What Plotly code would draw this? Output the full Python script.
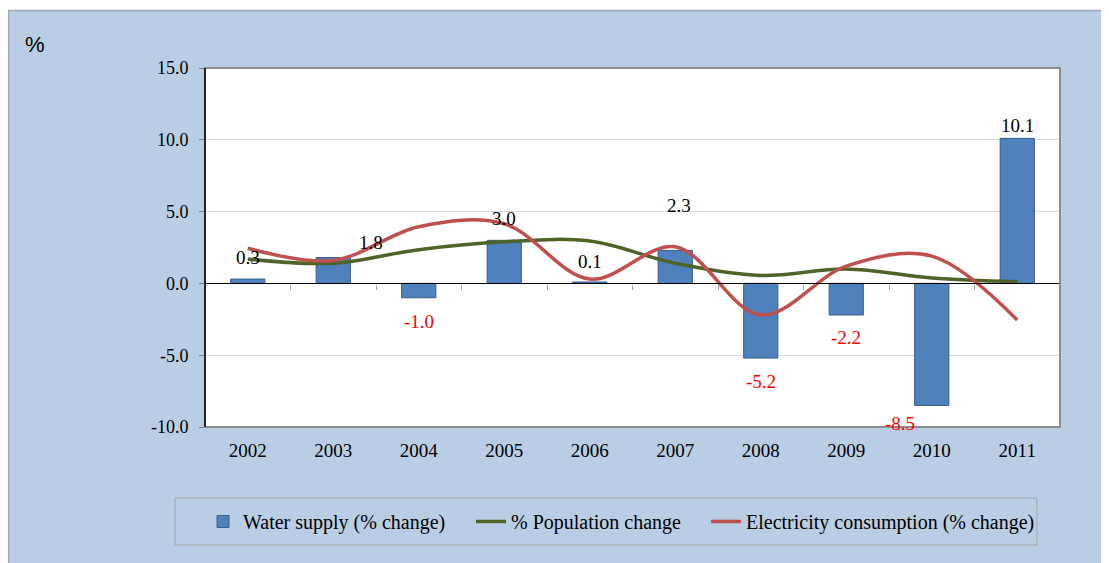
import plotly.graph_objects as go

years = ["2002", "2003", "2004", "2005", "2006", "2007", "2008", "2009", "2010", "2011"]
water_supply = [0.3, 1.8, -1.0, 3.0, 0.1, 2.3, -5.2, -2.2, -8.5, 10.1]
population_change = [1.7, 1.4, 2.35, 2.9, 2.95, 1.4, 0.55, 1.0, 0.38, 0.12]
electricity = [2.45, 1.6, 3.95, 4.15, 0.3, 2.55, -2.2, 1.2, 1.9, -2.55]
y_ticks = [-10, -5, 0, 5, 10, 15]
y_ticklabels = [f"{v:.1f}" for v in y_ticks]

# label pixel offsets (xshift, extra yshift) -- styling only
label_xshift = [0, 38, 0, 0, 0, 4, 0, 0, -32, 0]
label_yextra = [2, -5, 4, 2, 0, 25, 3, 3, -2, -7]

BLUE_BG = "#B9CDE5"
FONT = "Liberation Serif"

fig = go.Figure()
fig.add_trace(go.Bar(
    x=years, y=water_supply, name="Water supply (% change)", legend="legend",
    marker=dict(color="#4F81BD", line=dict(color="#385D8A", width=1)),
))
fig.add_trace(go.Scatter(
    x=years, y=population_change, name="% Population change", mode="lines", legend="legend2",
    line=dict(color="#4F6228", width=3.5, shape="spline", smoothing=1.0),
))
fig.add_trace(go.Scatter(
    x=years, y=electricity, name="Electricity consumption (% change)", mode="lines",
    legend="legend3",
    line=dict(color="#C0504D", width=3.5, shape="spline", smoothing=1.0),
))
# invisible trace to carry the zero-line category axis
fig.add_trace(go.Scatter(
    x=years, y=[None] * len(years), xaxis="x2", mode="lines",
    showlegend=False, hoverinfo="skip",
))

for i, v in enumerate(water_supply):
    pos = v >= 0
    fig.add_annotation(
        x=i, y=v, xref="x", yref="y", text=f"{v:.1f}", showarrow=False,
        xshift=label_xshift[i],
        yshift=(20 + label_yextra[i]) if pos else -(20 + label_yextra[i]),
        font=dict(family=FONT, size=19, color="black" if pos else "#FF0000"),
    )

# outer frame: thin white strip on top + grey edge lines
fig.add_shape(type="rect", xref="paper", yref="paper", x0=-0.24, x1=1.1, y0=1.1616, y1=1.2,
              fillcolor="white", line=dict(width=0), layer="below")
fig.add_shape(type="line", xref="paper", yref="paper", x0=-0.2304, x1=1.1, y0=1.1602, y1=1.1602,
              line=dict(color="#A0A8B4", width=1.5), layer="below")
fig.add_shape(type="line", xref="paper", yref="paper", x0=-0.2298, x1=-0.2298, y0=-0.4, y1=1.1616,
              line=dict(color="#A0A8B4", width=1.5), layer="below")
# legend box
fig.add_shape(type="rect", xref="paper", yref="paper", x0=-0.035, x1=0.973, y0=-0.3287, y1=-0.1978,
              fillcolor="rgba(0,0,0,0)", line=dict(color="#A6A6A6", width=1), layer="below")
# plot area border
fig.add_shape(type="rect", xref="x domain", yref="y domain", x0=0, x1=1, y0=0, y1=1,
              line=dict(color="#8C8C8C", width=2), layer="above")
fig.add_shape(type="line", xref="x domain", yref="y domain", x0=0, x1=0, y0=0, y1=1,
              line=dict(color="black", width=1.5), layer="above")

fig.add_annotation(x=-0.1985, y=1.065, xref="paper", yref="paper", text="%", showarrow=False,
                   xanchor="center", yanchor="middle",
                   font=dict(family="Liberation Sans", size=22, color="black"))

legend_common = dict(
    orientation="h", y=-0.2632, xanchor="left", yanchor="middle",
    bgcolor="rgba(0,0,0,0)", borderwidth=0,
    font=dict(family=FONT, size=20), itemwidth=30,
)

fig.update_layout(
    width=1101, height=555,
    margin=dict(l=197, r=49, t=60, b=136),
    paper_bgcolor=BLUE_BG, plot_bgcolor="white",
    font=dict(family=FONT, size=19, color="black"),
    bargap=0.6,
    showlegend=True,
    legend=dict(x=-0.0023, **legend_common),
    legend2=dict(x=0.3111, **legend_common),
    legend3=dict(x=0.5860, **legend_common),
    xaxis=dict(
        type="category", range=[-0.5, 9.5], showgrid=False, showline=False, ticks="",
        ticklabelstandoff=10, tickfont=dict(family=FONT, size=19),
    ),
    xaxis2=dict(
        type="category", range=[-0.5, 9.5], overlaying="x", anchor="free", position=0.4,
        side="bottom", showgrid=False, showline=True, linecolor="black", linewidth=1.2,
        showticklabels=False, ticks="outside", tickson="boundaries", ticklen=5,
        tickcolor="#A0A0A0",
    ),
    yaxis=dict(
        range=[-10, 15], tickvals=y_ticks, ticktext=y_ticklabels,
        showgrid=True, gridcolor="#D9D9D9", gridwidth=1, zeroline=False,
        ticks="outside", ticklen=5, tickcolor="#808080", showline=False,
        ticklabelstandoff=7, tickfont=dict(family=FONT, size=18),
    ),
)

fig.write_html("out.html")
